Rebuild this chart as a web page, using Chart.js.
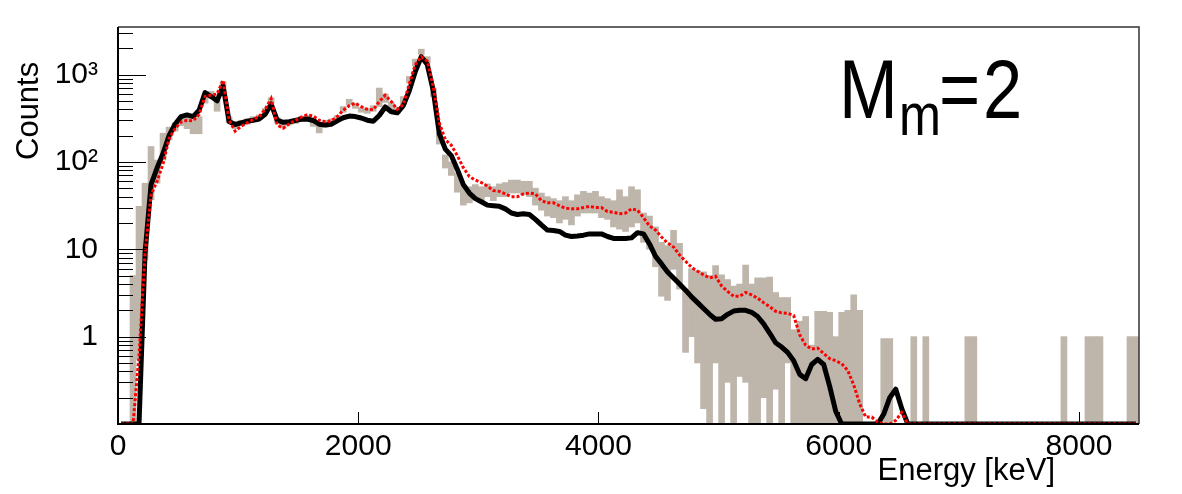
<!DOCTYPE html>
<html>
<head>
<meta charset="utf-8">
<script src="https://cdn.jsdelivr.net/npm/chart.js@4.4.1/dist/chart.umd.min.js"></script>
<style>
  html, body { margin: 0; padding: 0; background: #fff; }
  canvas { display: block; }
</style>
</head>
<body>
<canvas id="canvas" width="1182" height="494"></canvas>
<script>
// 50 keV bins, centres 25 .. 8475 keV
const binWidth = 50;
const energies = [];
for (let e = binWidth / 2; e < 8500; e += binWidth) energies.push(e);

// black thick line (simulation 1), counts per bin
const blackCounts = [
  0, 0, 0, 0, 9, 55, 85, 125, 200, 270,
  330, 345, 330, 390, 620, 560, 500, 740, 290, 268,
  280, 292, 300, 310, 350, 460, 300, 284, 288, 298,
  308, 310, 298, 270, 265, 270, 295, 320, 335, 330,
  318, 300, 292, 340, 425, 375, 365, 440, 650, 1080,
  1600, 1300, 650, 210, 140, 118, 82, 55, 44, 38,
  35, 32, 31.5, 31, 29, 26, 25, 25.5, 25, 22,
  19, 16.6, 16.4, 16, 14.5, 14, 14.2, 14.5, 15, 15,
  15, 14, 13.3, 13.3, 13.3, 13.5, 15.5, 15, 11.5, 8.3,
  6.8, 5.5, 4.7, 4.0, 3.4, 2.85, 2.45, 2.1, 1.8, 1.58,
  1.6, 1.8, 1.96, 2.0, 2.0, 1.9, 1.7, 1.4, 1.1, 0.85,
  0.76, 0.66, 0.53, 0.37, 0.33, 0.48, 0.55, 0.48, 0.27, 0.14,
  0, 0, 0, 0, 0, 0, 0, 0.13, 0.2, 0.25,
  0.15, 0, 0, 0, 0, 0, 0, 0, 0, 0,
  0, 0, 0, 0, 0, 0, 0, 0, 0, 0,
  0, 0, 0, 0, 0, 0, 0, 0, 0, 0,
  0, 0, 0, 0, 0, 0, 0, 0, 0, 0
];

// red dotted line (simulation 2)
const redCounts = [
  0, 0, 0, 0.6, 9, 42, 60, 95, 185, 240,
  285, 300, 295, 350, 560, 580, 600, 860, 300, 225,
  255, 280, 305, 330, 400, 530, 265, 243, 272, 298,
  325, 345, 335, 300, 288, 295, 330, 390, 440, 470,
  430, 400, 395, 490, 580, 490, 400, 450, 780, 1300,
  1600, 1420, 720, 280, 180, 155, 118, 86, 68, 62,
  58, 53, 47, 46, 43, 40, 40, 43, 44, 43,
  36, 34, 34, 31.5, 29.5, 29, 29, 30, 31, 30,
  30, 27, 26.5, 25.5, 26, 29, 28, 23, 18.5, 16.6,
  13.8, 11.8, 10.6, 8.6, 7.3, 6.2, 5.6, 5.1, 4.7, 4.9,
  3.8, 3.3, 2.9, 2.9, 3.2, 3.0, 2.75, 2.45, 2.2, 1.95,
  1.87, 1.85, 1.75, 1.05, 0.8, 0.72, 0.74, 0.64, 0.56, 0.53,
  0.49, 0.41, 0.28, 0.17, 0.12, 0.12, 0.105, 0, 0, 0.11,
  0.135, 0, 0, 0, 0, 0, 0, 0, 0, 0,
  0, 0, 0, 0, 0, 0, 0, 0, 0, 0,
  0, 0, 0, 0, 0, 0, 0, 0, 0, 0,
  0, 0, 0, 0, 0, 0, 0, 0, 0, 0
];

// grey data band: upper and lower edge of each bin's error bar
const grayHi = [
  null, null, 5, 31, 57, 150, 105, 213, 250, 280,
  310, 330, 300, 330, 560, 640, 500, 830, 330, 280,
  300, 310, 330, 345, 410, 540, 320, 280, 300, 310,
  330, 340, 310, 280, 300, 310, 340, 430, 520, 470,
  420, 410, 440, 700, 600, 480, 420, 560, 950, 1500,
  1950, 1600, 700, 220, 120, 100, 75, 55, 52, 55,
  52, 56, 52, 56, 58, 62, 62, 60, 60, 50,
  44, 40, 38, 36, 40, 36, 42, 46, 44, 46,
  40, 38, 36, 48, 40, 52, 48, 26, 24, 18,
  12, 11, 16.5, 11.7, 3.5, 6, 5.7, 5.5, 5, 6.5,
  5.1, 4.5, 3.8, 4.0, 6.6, 4.0, 4.7, 4.7, 4.8, 3.2,
  2.8, 2.8, 1.2, 1.5, 1.7, 0.8, 1.95, 1.95, 1.9, 1.0,
  1.9, 2.0, 3.0, 2.0, null, null, null, 0.95, 0.95, null,
  null, null, 1.0, null, 1.0, null, null, null, null, null,
  null, 1.0, 1.0, null, null, null, null, null, null, null,
  null, null, null, null, null, null, null, 1.0, null, null,
  null, 1.0, 1.0, 1.0, null, null, null, null, 1.0, 1.0
];
const grayLo = [
  null, null, 0.1, 0.55, 7.6, 37, 57, 105, 178, 225,
  260, 240, 210, 210, 470, 540, 380, 720, 280, 240,
  260, 270, 290, 305, 360, 480, 280, 245, 265, 275,
  295, 300, 255, 215, 250, 270, 300, 370, 450, 410,
  370, 360, 380, 430, 480, 400, 360, 450, 800, 1250,
  1700, 1350, 560, 160, 85, 70, 45, 32, 34, 38,
  36, 40, 36, 40, 40, 44, 44, 42, 40, 32,
  28, 24, 23, 20, 22, 19, 24, 26, 26, 26,
  23, 22, 18, 17, 16, 18, 20, 12, 10, 6.3,
  2.9, 2.6, 5.9, 3.5, 0.66, 1.0, 0.5, 0.15, 0.1, 0.5,
  0.1, 0.3, 0.1, 0.35, 0.3, 0.1, 0.1, 0.2, 0.1, 0.25,
  0.1, 0.5, 0.1, 0.1, 0.1, 0.1, 0.1, 0.1, 0.1, 0.1,
  0.1, 0.1, 0.1, 0.1, null, null, null, 0.1, 0.1, null,
  null, null, 0.1, null, 0.1, null, null, null, null, null,
  null, 0.1, 0.1, null, null, null, null, null, null, null,
  null, null, null, null, null, null, null, 0.1, null, null,
  null, 0.1, 0.1, 0.1, null, null, null, null, 0.1, 0.1
];

const xTicks = [0, 2000, 4000, 6000, 8000];
const yMin = 0.1;
const yMax = 3500;
const yLabels = { 1: '1', 10: '10', 100: '10²', 1000: '10³' };

const font = '"Liberation Sans", Arial, Helvetica, sans-serif';

// empty bins sit on the axis floor, as in the log plot
const floor = v => (v > 0 ? v : yMin);
const grayBars = grayLo.map((lo, i) => (lo == null ? null : [lo, grayHi[i]]));

const axisDecor = {
  id: 'axisDecor',
  afterDatasetsDraw(chart) {
    const { ctx, chartArea: a, scales: { x, y } } = chart;
    ctx.save();
    ctx.strokeStyle = '#000';
    ctx.lineWidth = 1;
    y.ticks.forEach(t => {
      const lg = Math.log10(t.value);
      const major = Math.abs(lg - Math.round(lg)) < 1e-6;
      const py = Math.round(y.getPixelForValue(t.value)) + 0.5;
      if (py <= a.top + 1 || py >= a.bottom - 1) return;
      ctx.beginPath();
      ctx.moveTo(a.left, py);
      ctx.lineTo(a.left + (major ? 28 : 15), py);
      ctx.stroke();
    });
    x.ticks.forEach(t => {
      const px = Math.round(x.getPixelForValue(t.value)) + 0.5;
      ctx.beginPath();
      ctx.moveTo(px, a.bottom);
      ctx.lineTo(px, a.bottom - 12);
      ctx.stroke();
    });
    // frame
    ctx.strokeStyle = '#333';
    ctx.lineWidth = 1.5;
    ctx.beginPath();
    ctx.moveTo(a.left, a.top);
    ctx.lineTo(a.right, a.top);
    ctx.lineTo(a.right, a.bottom);
    ctx.stroke();
    ctx.strokeStyle = '#000';
    ctx.lineWidth = 2;
    ctx.beginPath();
    ctx.moveTo(a.left, a.top);
    ctx.lineTo(a.left, a.bottom);
    ctx.lineTo(a.right, a.bottom);
    ctx.stroke();
    ctx.restore();
  },
  afterDraw(chart) {
    const { ctx, chartArea: a } = chart;
    ctx.save();
    ctx.fillStyle = '#000';
    ctx.textBaseline = 'alphabetic';

    ctx.font = '31px ' + font;
    ctx.textAlign = 'right';
    ctx.fillText('Energy [keV]', a.right - 84, a.bottom + 56);

    ctx.save();
    ctx.translate(38, a.top + 133);
    ctx.rotate(-Math.PI / 2);
    ctx.textAlign = 'left';
    ctx.fillText('Counts', 0, 0);
    ctx.restore();

    // M_m=2 label, each glyph group slightly condensed
    const piece = (txt, size, x, y) => {
      ctx.save();
      ctx.translate(a.left + x, a.top + y);
      ctx.scale(0.84, 1);
      ctx.font = size + 'px ' + font;
      ctx.textAlign = 'left';
      ctx.fillText(txt, 0, 0);
      ctx.restore();
    };
    piece('M', 84, 721, 91);
    piece('m', 60, 781, 108);
    piece('=', 84, 821, 91);
    piece('2', 84, 865, 91);

    ctx.restore();
  }
};

new Chart(document.getElementById('canvas').getContext('2d'), {
  data: {
    labels: energies,
    datasets: [
      {
        type: 'line',
        label: 'sim 2',
        data: redCounts.map(floor),
        borderColor: '#ff0000',
        borderWidth: 3,
        borderDash: [3, 2],
        pointRadius: 0,
        tension: 0,
        order: 0
      },
      {
        type: 'line',
        label: 'sim 1',
        data: blackCounts.map(floor),
        borderColor: '#000000',
        borderWidth: 5,
        borderJoinStyle: 'round',
        pointRadius: 0,
        tension: 0,
        order: 1
      },
      {
        type: 'bar',
        label: 'data',
        data: grayBars,
        backgroundColor: 'rgb(190,181,171)',
        borderWidth: 0,
        barPercentage: 1,
        categoryPercentage: 1,
        order: 2
      }
    ]
  },
  options: {
    responsive: false,
    animation: false,
    events: [],
    layout: { padding: { top: 27, right: 43, left: 0, bottom: 0 } },
    plugins: {
      legend: { display: false },
      tooltip: { enabled: false },
      title: { display: false }
    },
    scales: {
      x: {
        type: 'linear',
        min: 0,
        max: 8500,
        offset: false,
        bounds: 'ticks',
        afterBuildTicks: s => { s.ticks = xTicks.map(v => ({ value: v })); },
        afterFit: s => { s.height = 70; s.paddingLeft = 0; s.paddingRight = 0; },
        grid: { display: false, drawTicks: false, offset: false },
        border: { display: false },
        ticks: {
          padding: 5,
          color: '#000',
          font: { family: font, size: 30 },
          maxRotation: 0,
          autoSkip: false,
          callback: v => String(v)
        }
      },
      y: {
        type: 'logarithmic',
        min: yMin,
        max: yMax,
        afterBuildTicks: s => {
          const t = [];
          for (let e = -1; e <= 3; e++) {
            for (let m = 1; m <= 9; m++) {
              const v = m * Math.pow(10, e);
              if (v >= yMin && v <= yMax) t.push({ value: v, major: m === 1 });
            }
          }
          s.ticks = t;
        },
        afterFit: s => { s.width = 118; s.paddingTop = 0; s.paddingBottom = 0; },
        grid: { display: false, drawTicks: false },
        border: { display: false },
        ticks: {
          padding: 20,
          color: '#000',
          autoSkip: false,
          font: { family: font, size: 30 },
          callback: v => yLabels[Math.round(v * 1000) / 1000] || ''
        }
      }
    }
  },
  plugins: [axisDecor]
});
</script>
</body>
</html>
